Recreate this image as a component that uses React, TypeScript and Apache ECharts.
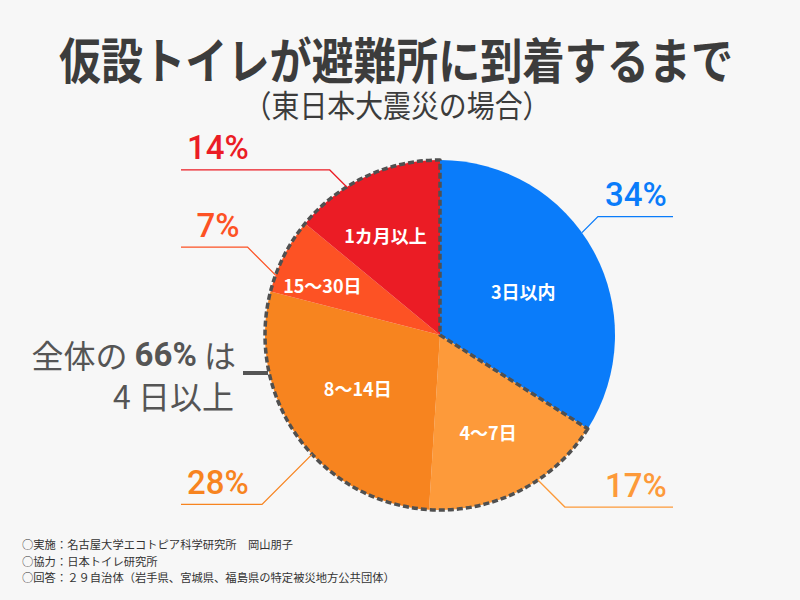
import React, { useEffect, useRef } from 'react';
import * as echarts from 'echarts';

// ---- data ----
const categories = ['3日以内', '4〜7日', '8〜14日', '15〜30日', '1カ月以上'];
const values = [34, 17, 28, 7, 14];
const colors = ['#0a7cfa', '#fd9a3a', '#f7841f', '#fd5224', '#eb1c25'];
const titleText = '仮設トイレが避難所に到着するまで';
const subtitleText = '（東日本大震災の場合）';
const footerLines = [
  '○実施：名古屋大学エコトピア科学研究所　岡山朋子',
  '○協力：日本トイレ研究所',
  '○回答：２９自治体（岩手県、宮城県、福島県の特定被災地方公共団体）',
];

// ---- layout ----
const CX = 440;
const CY = 335;
const R = 175;
const LEFT_END = 181;
const RIGHT_END = 673;
const TEXT_INSET = 37;
const DIAG = [16, 27, 50, 28, 17];
const INNER_SHIFT: [number, number][] = [
  [4, 0],
  [7, 16],
  [-9, 0],
  [-37, -9],
  [-16, -18],
];
const JP = '"Noto Sans CJK JP", "Noto Sans", sans-serif';

export default function App() {
  const ref = useRef<HTMLDivElement>(null);

  useEffect(() => {
    if (!ref.current) return;
    const chart = echarts.init(ref.current, null, { renderer: 'svg' });

    const firstShare = values[0];
    const restShare = values.slice(1).reduce((a, b) => a + b, 0);

    const option: any = {
      animation: false,
      backgroundColor: '#f7f7f7',
      series: [
        {
          type: 'pie',
          center: [CX, CY],
          radius: R,
          startAngle: 90,
          clockwise: true,
          silent: true,
          data: categories.map((c, i) => ({
            name: c,
            value: values[i],
            itemStyle: { color: colors[i], borderWidth: 0 },
          })),
          label: {
            show: true,
            position: 'inside',
            formatter: '{b}',
            color: '#ffffff',
            fontSize: 18,
            fontWeight: 'bold',
            fontFamily: JP,
          },
          labelLine: { show: false },
          labelLayout: (p: any) => ({
            dx: INNER_SHIFT[p.dataIndex][0],
            dy: INNER_SHIFT[p.dataIndex][1],
          }),
        },
        {
          type: 'pie',
          center: [CX, CY],
          radius: R,
          startAngle: 90,
          clockwise: true,
          silent: true,
          z: 3,
          label: { show: false },
          labelLine: { show: false },
          data: [
            {
              name: 'a',
              value: firstShare,
              itemStyle: { color: 'rgba(0,0,0,0)', borderWidth: 0 },
            },
            {
              name: 'b',
              value: restShare,
              itemStyle: {
                color: 'rgba(0,0,0,0)',
                borderColor: '#505050',
                borderWidth: 3.5,
                borderType: [6, 3],
              },
            },
          ],
        },
        {
          type: 'pie',
          center: [CX, CY],
          radius: R,
          startAngle: 97,
          clockwise: true,
          silent: true,
          z: 4,
          avoidLabelOverlap: false,
          data: categories.map((c, i) => ({
            name: c,
            value: values[i],
            itemStyle: { color: 'rgba(0,0,0,0)', borderWidth: 0 },
            label: { color: colors[i] },
            labelLine: { lineStyle: { color: colors[i], width: 1.3 } },
          })),
          label: {
            show: true,
            position: 'outside',
            formatter: '{c}%',
            fontSize: 33,
            fontWeight: 500,
            fontFamily: 'Roboto, sans-serif',
          },
          labelLine: { show: true, length: 10, length2: 10, smooth: false },
          labelLayout: (p: any) => {
            const pts = p.labelLinePoints;
            if (!pts) return {};
            const x0 = pts[0][0];
            const y0 = pts[0][1];
            const isLeft = x0 < CX;
            const isUp = y0 < CY;
            const d = DIAG[p.dataIndex];
            const kx = x0 + (isLeft ? -d : d);
            const ky = y0 + (isUp ? -d : d);
            const end = isLeft ? LEFT_END : RIGHT_END;
            return {
              x: isLeft ? end + TEXT_INSET : end - TEXT_INSET,
              y: ky - 22,
              align: 'center',
              verticalAlign: 'middle',
              labelLinePoints: [
                [x0, y0],
                [kx, ky],
                [end, ky],
              ],
            };
          },
        },
      ],
      graphic: [
        {
          type: 'text',
          x: 396,
          y: 58,
          scaleX: 0.86,
          style: {
            text: titleText,
            fontSize: 49,
            fontWeight: 'bold',
            fontFamily: JP,
            fill: '#3c3c3c',
            textAlign: 'center',
            align: 'center',
            textVerticalAlign: 'middle',
            verticalAlign: 'middle',
          },
        },
        {
          type: 'text',
          x: 397,
          y: 103,
          scaleX: 0.9,
          style: {
            text: subtitleText,
            fontSize: 31,
            fontWeight: 'normal',
            fontFamily: JP,
            fill: '#3c3c3c',
            textAlign: 'center',
            align: 'center',
            textVerticalAlign: 'middle',
            verticalAlign: 'middle',
          },
        },
        {
          type: 'text',
          x: 236,
          y: 354,
          style: {
            text: `{a|全体の }{b|${restShare}%}{a| は}`,
            fill: '#555555',
            textAlign: 'right',
            align: 'right',
            textVerticalAlign: 'middle',
            verticalAlign: 'middle',
            rich: {
              a: {
                fontSize: 32,
                lineHeight: 36,
                fontFamily: JP,
                fill: '#555555',
                color: '#555555',
              },
              b: {
                fontSize: 33,
                lineHeight: 36,
                fontFamily: 'Roboto, sans-serif',
                fontWeight: 'bold',
                fill: '#555555',
                color: '#555555',
              },
            },
          },
        },
        {
          type: 'text',
          x: 234,
          y: 395,
          style: {
            text: '4 日以上',
            fontSize: 32,
            lineHeight: 36,
            fontFamily: JP,
            fill: '#555555',
            textAlign: 'right',
            align: 'right',
            textVerticalAlign: 'middle',
            verticalAlign: 'middle',
          },
        },
        {
          type: 'line',
          shape: { x1: 243, y1: 373, x2: 268, y2: 373 },
          style: { stroke: '#555555', lineWidth: 4 },
        },
        ...footerLines.map((t, i) => ({
          type: 'text',
          x: 22,
          y: 544 + i * 16.5,
          style: {
            text: t,
            fontSize: 11.3,
            fontFamily: JP,
            fill: '#333333',
            textAlign: 'left',
            align: 'left',
            textVerticalAlign: 'middle',
            verticalAlign: 'middle',
          },
        })),
      ],
    };

    chart.setOption(option);
    return () => chart.dispose();
  }, []);

  return (
    <div
      ref={ref}
      style={{
        position: 'fixed',
        left: 0,
        top: 0,
        width: 800,
        height: 600,
        background: '#f7f7f7',
      }}
    />
  );
}
